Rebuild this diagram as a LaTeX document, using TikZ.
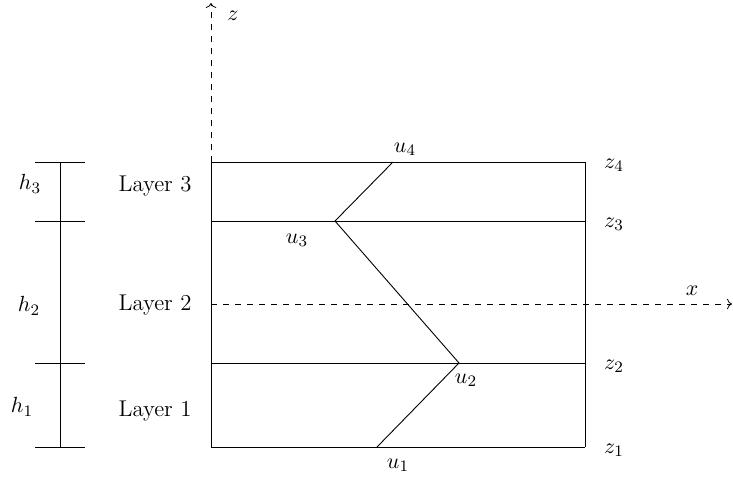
\documentclass[tikz,border=0pt]{standalone}
\usetikzlibrary{positioning, arrows.meta}
\tikzset{
    >=To, % open arrow heads on the axes
    axis/.style={->, dashed},
    iface/.style={line width=0.45pt},
    dimtick/.style={line width=0.45pt},
    lbl/.style={inner sep=1pt}
}

\begin{document}
\begin{tikzpicture}[x=0.5pt,y=-0.5pt,every node/.style={font=\fontsize{11.4}{13}\selectfont}]
        \useasboundingbox (0,0) rectangle (733,477);

        % interfaces, with the dimension ticks on the left
        \foreach \i/\y in {1/447,2/363,3/221,4/162}{
            \coordinate (a\i) at (211,\y);
            \coordinate (b\i) at (585,\y);
            \coordinate (tl\i) at (35,\y);
            \coordinate (tr\i) at (85,\y);
            \coordinate (tm\i) at (60,\y);
            \node[lbl] (zl\i) at (614,\y+3) {$z_{\i}$};
            \draw[iface] (a\i) -- (b\i);
            \draw[dimtick] (tl\i) -- (tr\i);
        }
        \draw[iface] (a1) -- (a4);
        \draw[iface] (b1) -- (b4);
        \draw[dimtick] (tm1) -- (tm4);

        % axes
        \coordinate (ztip) at (211,3);
        \coordinate (xo) at (211,304);
        \coordinate (xtip) at (732,304);
        \draw[axis] (a4) -- (ztip);
        \draw[axis] (xo) -- (xtip);
        \node[lbl] (zlab) at (233,16) {$z$};
        \node[lbl] (xlab) at (692,291) {$x$};

        % displacement profile
        \coordinate (p1) at (377,447);
        \coordinate (p2) at (459,363);
        \coordinate (p3) at (335,221);
        \coordinate (p4) at (393,162);
        \draw[iface] (p1) -- (p2) -- (p3) -- (p4);
        \node[lbl] (u1) at (398,465) {$u_1$};
        \node[lbl] (u2) at (466,380) {$u_2$};
        \node[lbl] (u3) at (297,240) {$u_3$};
        \node[lbl] (u4) at (405,149) {$u_4$};

        % layer names and thicknesses
        \node[lbl] (L3) at (155,186) {Layer 3};
        \node[lbl] (L2) at (155,305) {Layer 2};
        \node[lbl] (L1) at (155,411) {Layer 1};
        \node[lbl] (h3) at (30,184) {$h_3$};
        \node[lbl] (h2) at (29,306) {$h_2$};
        \node[lbl] (h1) at (22,407) {$h_1$};
    \end{tikzpicture}
\end{document}
